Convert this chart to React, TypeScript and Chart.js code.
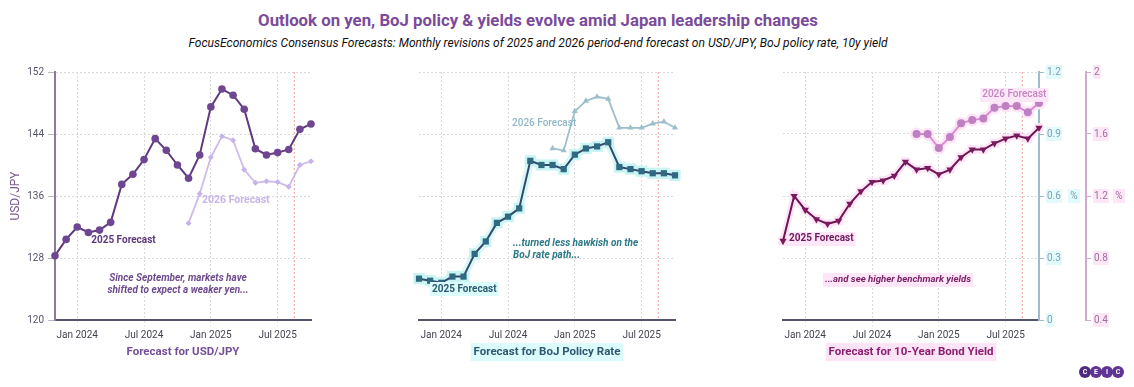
import React, { useEffect, useRef } from "react";
import { Chart, registerables } from "chart.js";

Chart.register(...registerables);

// ---------- DATA ----------
const months = [
  "Nov 2023", "Dec 2023", "Jan 2024", "Feb 2024", "Mar 2024", "Apr 2024",
  "May 2024", "Jun 2024", "Jul 2024", "Aug 2024", "Sep 2024", "Oct 2024",
  "Nov 2024", "Dec 2024", "Jan 2025", "Feb 2025", "Mar 2025", "Apr 2025",
  "May 2025", "Jun 2025", "Jul 2025", "Aug 2025", "Sep 2025", "Oct 2025",
];
const tickMonths = ["Jan 2024", "Jul 2024", "Jan 2025", "Jul 2025"];
const start2025 = "Nov 2023";
const start2026 = "Nov 2024";
// dotted marker between the Aug 2025 and Sep 2025 surveys
const markerAfter = "Aug 2025";

const usdjpy2025 = [128.3, 130.4, 132.0, 131.3, 131.6, 132.6, 137.5, 138.8, 140.7, 143.4, 141.9, 140.0, 138.3, 141.3, 147.5, 149.8, 149.0, 147.2, 142.1, 141.3, 141.6, 142.0, 144.6, 145.3];
const usdjpy2026 = [132.5, 136.3, 141.0, 143.7, 143.2, 139.4, 137.7, 137.9, 137.8, 137.2, 140.0, 140.5];
const boj2025 = [0.2, 0.19, 0.18, 0.21, 0.21, 0.32, 0.38, 0.47, 0.5, 0.54, 0.77, 0.75, 0.75, 0.73, 0.8, 0.83, 0.84, 0.86, 0.74, 0.73, 0.72, 0.71, 0.71, 0.7];
const boj2026 = [0.83, 0.82, 1.01, 1.06, 1.08, 1.07, 0.93, 0.93, 0.93, 0.95, 0.96, 0.93];
const jgb2025 = [0.91, 1.2, 1.11, 1.05, 1.02, 1.04, 1.15, 1.23, 1.29, 1.3, 1.33, 1.42, 1.37, 1.38, 1.34, 1.37, 1.45, 1.5, 1.5, 1.54, 1.57, 1.59, 1.57, 1.64];
const jgb2026 = [1.6, 1.6, 1.51, 1.58, 1.67, 1.69, 1.7, 1.77, 1.78, 1.78, 1.74, 1.8];

const usdjpyTicks = [120, 128, 136, 144, 152];
const bojTicks = [0, 0.3, 0.6, 0.9, 1.2];
const jgbTicks = [0.4, 0.8, 1.2, 1.6, 2];

const titleText = "Outlook on yen, BoJ policy & yields evolve amid Japan leadership changes";
const subtitleText = "FocusEconomics Consensus Forecasts: Monthly revisions of 2025 and 2026 period-end forecast on USD/JPY, BoJ policy rate, 10y yield";

// ---------- HELPERS ----------
const FONT = "Roboto";
const TITLE_SIZE = 11.5;
const toPoints = (vals: number[], startLabel: string) => {
  const s = months.indexOf(startLabel);
  return vals.map((v, i) => ({ x: s + i, y: v }));
};
const fmt = (v: number) => String(Number(Number(v).toFixed(2)));

type Note = {
  text: string;
  x: number; // month index
  y: number; // value in the panel's axis
  color: string;
  weight: string;
  italic?: boolean;
  size?: number;
  align: CanvasTextAlign;
  halo?: string;
};

function xScale(title: string, titleColor: string) {
  return {
    type: "linear",
    min: 0,
    max: months.length - 1,
    afterBuildTicks: (s: any) => {
      s.ticks = tickMonths.map((m) => ({ value: months.indexOf(m) }));
    },
    afterFit: (s: any) => {
      s.height = 67;
    },
    ticks: {
      callback: (v: any) => months[v] ?? "",
      color: "#444450",
      font: { family: FONT, size: 10 },
      padding: 3,
      maxRotation: 0,
      autoSkip: false,
    },
    grid: {
      color: "#d9d9d9",
      lineWidth: 1,
      tickLength: 6,
      tickColor: "#e2e2e2",
      tickBorderDash: [2, 2],
      borderDash: [2, 2],
    },
    border: { display: true, color: "#55556a", width: 2, dash: [2, 2] },
    title: {
      display: true,
      text: title,
      color: titleColor,
      font: { family: FONT, size: TITLE_SIZE, weight: "bold" },
      padding: { top: 0, bottom: 28 },
    },
  };
}

function makePlugin(notes: Note[], yId: string, titleHalo?: string) {
  return {
    id: "notes",
    beforeDatasetsDraw(chart: any) {
      const { ctx, chartArea, scales } = chart;
      const mx = scales.x.getPixelForValue(months.indexOf(markerAfter) + 0.5);
      ctx.save();
      ctx.strokeStyle = "#f0a0a0";
      ctx.lineWidth = 1;
      ctx.setLineDash([2, 2]);
      ctx.beginPath();
      ctx.moveTo(mx, chartArea.top);
      ctx.lineTo(mx, chartArea.bottom);
      ctx.stroke();
      ctx.restore();
    },
    beforeDraw(chart: any) {
      if (!titleHalo) return;
      const { ctx, chartArea, scales } = chart;
      const t = scales.x.options.title;
      ctx.save();
      ctx.font = `bold ${t.font.size}px ${FONT}`;
      const w = ctx.measureText(t.text).width;
      const cx = (chartArea.left + chartArea.right) / 2;
      const cy = scales.x.bottom - 28 - (t.font.size * 1.2) / 2;
      ctx.fillStyle = titleHalo;
      ctx.fillRect(cx - w / 2 - 3, cy - 9, w + 6, 18);
      ctx.restore();
    },
    afterDatasetsDraw(chart: any) {
      const { ctx, scales } = chart;
      ctx.save();
      for (const n of notes) {
        const size = n.size ?? 10;
        ctx.font = `${n.italic ? "italic " : ""}${n.weight} ${size}px ${FONT}`;
        ctx.textAlign = n.align;
        ctx.textBaseline = "middle";
        const px = scales.x.getPixelForValue(n.x);
        const py = scales[yId].getPixelForValue(n.y);
        if (n.halo) {
          const w = ctx.measureText(n.text).width;
          const left = n.align === "center" ? px - w / 2 : n.align === "right" ? px - w : px;
          ctx.fillStyle = n.halo;
          ctx.fillRect(left - 2, py - 7, w + 4, 14);
        }
        ctx.fillStyle = n.color;
        ctx.fillText(n.text, px, py);
      }
      ctx.restore();
    },
  };
}

const baseOptions = (padding: any) => ({
  responsive: false,
  animation: false,
  devicePixelRatio: 1,
  layout: { padding },
  plugins: { legend: { display: false }, tooltip: { enabled: false } },
});

// ---------- CHART CONFIGS ----------
function leftConfig(): any {
  const notes: Note[] = [
    { text: "2025 Forecast", x: 3.25, y: 130.3, color: "#5b3a7a", weight: "bold", align: "left" },
    { text: "2026 Forecast", x: 13.2, y: 135.4, color: "#c8b6ea", weight: "bold", align: "left", size: 10.5 },
    { text: "Since September, markets have", x: 11.05, y: 125.3, color: "#6e4a8e", weight: "bold", italic: true, align: "center" },
    { text: "shifted to expect a weaker yen...", x: 11.05, y: 123.8, color: "#6e4a8e", weight: "bold", italic: true, align: "center" },
  ];
  return {
    type: "line",
    data: {
      datasets: [
        {
          data: toPoints(usdjpy2025, start2025),
          borderColor: "#60397f",
          backgroundColor: "#6f4692",
          borderWidth: 2,
          pointRadius: 3.8,
          pointBorderWidth: 0,
          pointStyle: "circle",
          tension: 0,
          clip: false,
        },
        {
          data: toPoints(usdjpy2026, start2026),
          borderColor: "#cdbcec",
          backgroundColor: "#c7b3e9",
          borderWidth: 1.8,
          pointRadius: 3,
          pointBorderWidth: 0,
          pointStyle: "rectRot",
          tension: 0,
          clip: false,
        },
      ],
    },
    options: {
      ...baseOptions({ left: 0, top: 72, right: 1134 - 311, bottom: 0 }),
      scales: {
        x: xScale("Forecast for USD/JPY", "#744f98"),
        y: {
          type: "linear",
          min: 120,
          max: 152,
          afterBuildTicks: (s: any) => {
            s.ticks = usdjpyTicks.map((v) => ({ value: v }));
          },
          afterFit: (s: any) => {
            s.width = 55;
          },
          ticks: { color: "#55556a", font: { family: FONT, size: 10 }, padding: 4, callback: (v: any) => fmt(v) },
          grid: {
            color: "#d9d9d9",
            tickLength: 7,
            tickColor: "#bdb6c6",
            tickBorderDash: [],
            borderDash: [2, 2],
          },
          border: { display: true, color: "#8a7b9c", width: 2, dash: [2, 2] },
          title: {
            display: true,
            text: "USD/JPY",
            color: "#7b5c90",
            font: { family: FONT, size: 12 },
            padding: { top: 9, bottom: 0 },
          },
        },
      },
    },
    plugins: [makePlugin(notes, "y")],
  };
}

function middleConfig(): any {
  const notes: Note[] = [
    { text: "2025 Forecast", x: 1.17, y: 0.15, color: "#2e5a72", weight: "bold", align: "left", halo: "#dcfbfb" },
    { text: "2026 Forecast", x: 8.36, y: 0.953, color: "#8fb8c6", weight: "500", align: "left" },
    { text: "...turned less hawkish on the", x: 8.45, y: 0.368, color: "#2c7a88", weight: "bold", italic: true, align: "left" },
    { text: "BoJ rate path...", x: 8.45, y: 0.31, color: "#2c7a88", weight: "bold", italic: true, align: "left" },
  ];
  const d2025 = toPoints(boj2025, start2025);
  return {
    type: "line",
    data: {
      datasets: [
        {
          data: d2025,
          borderColor: "#37466a",
          backgroundColor: "#2f6a82",
          borderWidth: 2,
          pointRadius: 4.4,
          pointBorderWidth: 0,
          pointStyle: "rect",
          tension: 0,
          clip: false,
        },
        {
          data: toPoints(boj2026, start2026),
          borderColor: "#9dbfcb",
          backgroundColor: "#9dbfcb",
          borderWidth: 1.8,
          pointRadius: 3.6,
          pointBorderWidth: 0,
          pointStyle: "triangle",
          tension: 0,
          clip: false,
        },
        {
          data: d2025,
          borderColor: "#d6f9f8",
          backgroundColor: "#c8f5f3",
          borderWidth: 8,
          pointRadius: 8,
          pointBorderWidth: 0,
          pointStyle: "rect",
          tension: 0,
          clip: false,
        },
      ],
    },
    options: {
      ...baseOptions({ left: 419, top: 72, right: 1134 - 675, bottom: 0 }),
      scales: {
        x: xScale("Forecast for BoJ Policy Rate", "#2f5873"),
        y: {
          type: "linear",
          min: 0,
          max: 1.2,
          afterBuildTicks: (s: any) => {
            s.ticks = bojTicks.map((v) => ({ value: v }));
          },
          afterFit: (s: any) => {
            s.width = 0;
          },
          ticks: { display: false },
          grid: { color: "#d9d9d9", drawTicks: false, borderDash: [2, 2] },
          border: { display: false, dash: [2, 2] },
        },
      },
    },
    plugins: [makePlugin(notes, "y", "#dcfbfb")],
  };
}

function rightConfig(): any {
  const notes: Note[] = [
    { text: "2025 Forecast", x: 0.54, y: 0.923, color: "#6e1a5c", weight: "bold", align: "left", halo: "#fde6f7" },
    { text: "2026 Forecast", x: 17.9, y: 1.852, color: "#c585c3", weight: "500", align: "left", halo: "#fde6f7" },
    { text: "...and see higher benchmark yields", x: 10.33, y: 0.658, color: "#7a2466", weight: "bold", italic: true, align: "center", halo: "#fde6f7", size: 9.6 },
  ];
  const d2025 = toPoints(jgb2025, start2025);
  const d2026 = toPoints(jgb2026, start2026);
  return {
    type: "line",
    data: {
      datasets: [
        {
          data: d2025,
          yAxisID: "yPink",
          borderColor: "#6d1553",
          backgroundColor: "#7a1a5e",
          borderWidth: 2,
          pointRadius: 4.2,
          pointBorderWidth: 0,
          pointStyle: "triangle",
          pointRotation: 180,
          tension: 0,
          clip: false,
        },
        {
          data: d2026,
          yAxisID: "yPink",
          borderColor: "#dc86d2",
          backgroundColor: "#bf80c2",
          borderWidth: 1.8,
          pointRadius: 4,
          pointBorderWidth: 0,
          pointStyle: "circle",
          tension: 0,
          clip: false,
        },
        {
          data: d2025,
          yAxisID: "yPink",
          borderColor: "#fde4f6",
          backgroundColor: "#fde4f6",
          borderWidth: 7,
          pointRadius: 6.5,
          pointBorderWidth: 0,
          pointStyle: "rect",
          tension: 0,
          clip: false,
        },
        {
          data: d2026,
          yAxisID: "yPink",
          borderColor: "#fde4f6",
          backgroundColor: "#fde4f6",
          borderWidth: 7,
          pointRadius: 6.5,
          pointBorderWidth: 0,
          pointStyle: "circle",
          tension: 0,
          clip: false,
        },
      ],
    },
    options: {
      ...baseOptions({ left: 783, top: 72, right: 0, bottom: 0 }),
      scales: {
        x: xScale("Forecast for 10-Year Bond Yield", "#8a1f6e"),
        yTeal: {
          type: "linear",
          position: "right",
          min: 0,
          max: 1.2,
          afterBuildTicks: (s: any) => {
            s.ticks = bojTicks.map((v) => ({ value: v }));
          },
          afterFit: (s: any) => {
            s.width = 47;
          },
          ticks: {
            color: "#7fa0b0",
            font: { family: FONT, size: 10 },
            padding: 3,
            callback: (v: any) => fmt(v),
            showLabelBackdrop: true,
            backdropColor: "#e2fafb",
            backdropPadding: 1,
          },
          grid: { drawOnChartArea: false, tickLength: 5, tickColor: "#9bbccb" },
          border: { display: true, color: "#9bbccb", width: 2 },
        },
        yPink: {
          type: "linear",
          position: "right",
          min: 0.4,
          max: 2,
          afterBuildTicks: (s: any) => {
            s.ticks = jgbTicks.map((v) => ({ value: v }));
          },
          afterFit: (s: any) => {
            s.width = 48;
          },
          ticks: {
            color: "#a0709a",
            font: { family: FONT, size: 10 },
            padding: 3,
            callback: (v: any) => fmt(v),
            showLabelBackdrop: true,
            backdropColor: "#fde7f7",
            backdropPadding: 1,
          },
          grid: { color: "#d9d9d9", tickLength: 5, tickColor: "#d6a8ce", tickBorderDash: [], borderDash: [2, 2] },
          border: { display: true, color: "#d6a8ce", width: 2, dash: [2, 2] },
        },
      },
    },
    plugins: [
      makePlugin(notes, "yPink", "#fde3f6"),
      {
        id: "units",
        afterDraw(chart: any) {
          const { ctx, scales } = chart;
          ctx.save();
          ctx.font = `10px ${FONT}`;
          ctx.textAlign = "center";
          ctx.textBaseline = "middle";
          const yMid = scales.yPink.getPixelForValue(jgbTicks[2]);
          const t = scales.yTeal;
          const p = scales.yPink;
          ctx.fillStyle = "#e2fafb";
          ctx.fillRect(t.right - 18, yMid - 7, 12, 14);
          ctx.fillStyle = "#7fa0b0";
          ctx.fillText("%", t.right - 12, yMid);
          ctx.fillStyle = "#fde7f7";
          ctx.fillRect(p.right - 21, yMid - 7, 12, 14);
          ctx.fillStyle = "#a0709a";
          ctx.fillText("%", p.right - 15, yMid);
          ctx.restore();
        },
      },
    ],
  };
}

function ChartCanvas({ make }: { make: () => any }) {
  const ref = useRef<HTMLCanvasElement | null>(null);
  useEffect(() => {
    if (!ref.current) return;
    const chart = new Chart(ref.current, make());
    return () => chart.destroy();
  }, [make]);
  return (
    <canvas
      ref={ref}
      width={1134}
      height={387}
      style={{ position: "absolute", left: 0, top: 0, width: 1134, height: 387 }}
    />
  );
}

const logoLetters = ["C", "E", "I", "C"];

export default function App() {
  return (
    <div
      style={{
        position: "absolute",
        left: 0,
        top: 0,
        width: 1134,
        height: 387,
        background: "#ffffff",
        fontFamily: FONT,
        overflow: "hidden",
      }}
    >
      <div
        style={{
          position: "absolute",
          left: 0,
          top: 8,
          width: 1076,
          textAlign: "center",
          fontSize: 16.8,
          fontWeight: 700,
          color: "#7b4b9b",
          lineHeight: "24px",
          whiteSpace: "nowrap",
        }}
      >
        {titleText}
      </div>
      <div
        style={{
          position: "absolute",
          left: 0,
          top: 34,
          width: 1076,
          textAlign: "center",
          fontSize: 12.05,
          fontStyle: "italic",
          color: "#111111",
          lineHeight: "18px",
          whiteSpace: "nowrap",
        }}
      >
        {subtitleText}
      </div>
      <ChartCanvas make={leftConfig} />
      <ChartCanvas make={middleConfig} />
      <ChartCanvas make={rightConfig} />
      <div style={{ position: "absolute", left: 1079, top: 366, display: "flex" }}>
        {logoLetters.map((l, i) => (
          <div
            key={i}
            style={{
              width: 12,
              height: 12,
              borderRadius: 6,
              marginLeft: i === 0 ? 0 : -1,
              background: i === 0 ? "#4d2a82" : "#5f3495",
              color: "#ffffff",
              fontSize: 7,
              fontWeight: 700,
              lineHeight: "12px",
              textAlign: "center",
            }}
          >
            {l}
          </div>
        ))}
      </div>
    </div>
  );
}
